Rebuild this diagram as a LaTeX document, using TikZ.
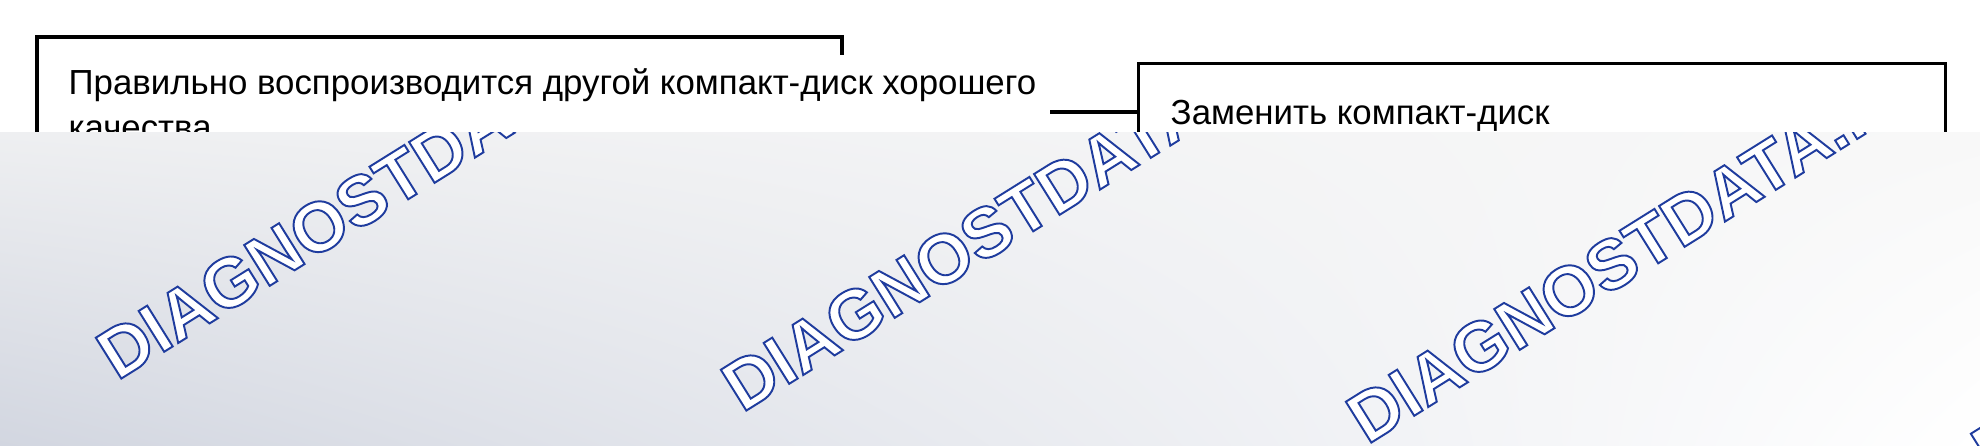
\documentclass[tikz,border=0pt]{standalone}
\usepackage{fontspec}
\setmainfont{Liberation Sans}
\newfontfamily\wmfont{Liberation Sans}
\usetikzlibrary{shadings}
\definecolor{wmblue}{HTML}{1F3C9E}
\definecolor{bandtl}{RGB}{238,239,241}
\definecolor{bandtr}{RGB}{248,248,248}
\definecolor{bandbl}{RGB}{210,214,224}
% outlined letters: blue stroke, white fill
\newcommand\hollowtext[1]{\special{pdf:literal direct 2 Tr 0.55 w 1 g}#1\special{pdf:literal direct 0 Tr}}
\begin{document}
\begin{tikzpicture}[x=0.01cm, y=-0.01cm,
    frame/.style={line width=0.9pt},
    body/.style={anchor=base west, inner sep=0, font=\fontsize{9.9}{12}\selectfont},
    watermark/.style={anchor=west, inner sep=0, rotate=32, text=wmblue, font=\wmfont\bfseries\fontsize{19.9}{23}\selectfont}]
    \useasboundingbox (0,0) rectangle (1980,446);

    % Condition box (only its top and left sides show)
    \draw [frame] (37,446) -- (37,37) -- (842,37) -- (842,55);
    \node [body] (cause) at (68,95) {Правильно воспроизводится другой компакт-диск хорошего};
    \node [body] (causemore) at (68,140) {качества};

    % Action box
    \node [draw, frame, anchor=north west, minimum width=8.06cm, minimum height=5cm, inner sep=0] (fix) at (1137,62) {};
    \node [body] (fixlabel) at (1170,125) {Заменить компакт-диск};

    % Link between the boxes
    \coordinate (link) at (1050,112);
    \draw [frame] (link) -- (link -| fix.west);

    % Grey band with watermarks
    \shade [upper left=bandtl, upper right=bandtr, lower left=bandbl, lower right=white] (0,133) rectangle (1980,446);
    \begin{scope}
        \clip (0,133) rectangle (1980,446);
        \foreach \wx/\wy [count=\i] in {104/361, 729/393, 1354/425, 1979/457}
            \node [watermark] (stamp\i) at (\wx,\wy) {\hollowtext{DIAGNOSTDATA...}};
    \end{scope}
\end{tikzpicture}
\end{document}
